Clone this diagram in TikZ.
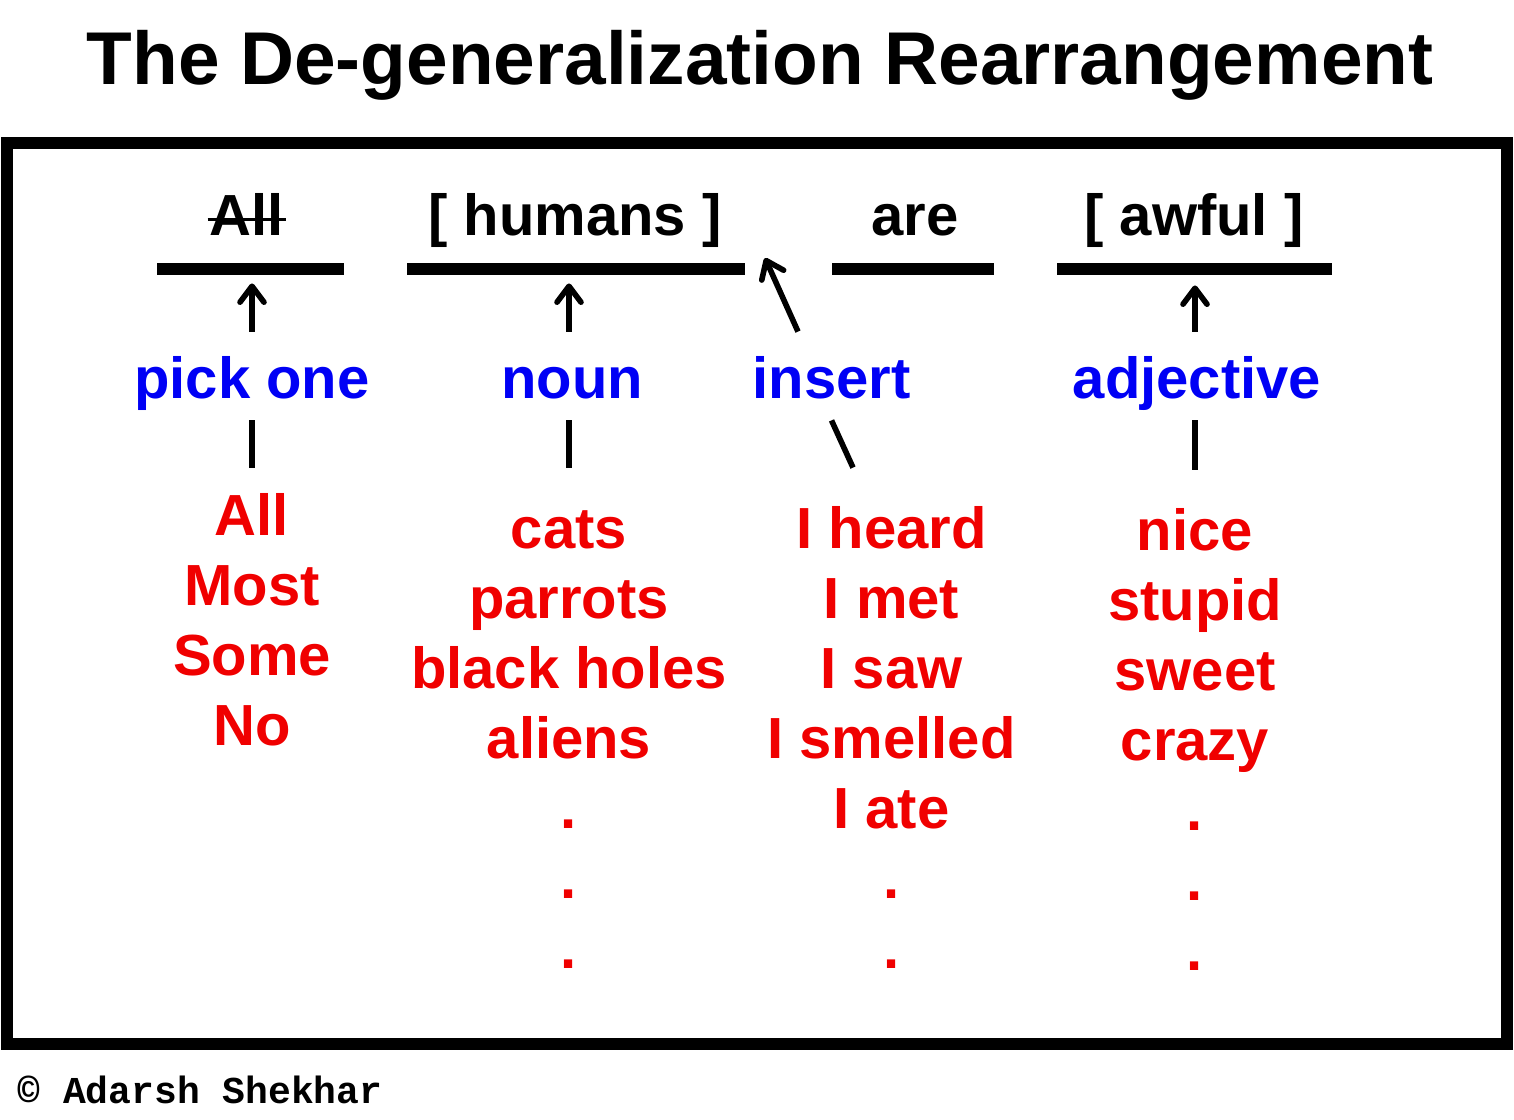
\documentclass[tikz,border=0pt]{standalone}
\usepackage{fontspec}
\setmainfont{Liberation Sans}
\newfontfamily\creditfont{Liberation Mono}
\definecolor{choicered}{RGB}{240,0,0}
\definecolor{roleblue}{RGB}{0,0,245}
\usetikzlibrary{arrows.meta, positioning}

\begin{document}
\begin{tikzpicture}[
    x=0.5pt, y=-0.5pt,
    word/.style={anchor=base, inner sep=0pt, text height=21.5pt, text depth=6pt,
                 font=\fontsize{29}{35}\selectfont\bfseries},
    choice/.style={word, text=choicered},
    role/.style={word, text=roleblue},
    slot/.style={fill=black, inner sep=0pt, minimum height=6pt},
    uparrow/.style={line width=2.8pt, -{Straight Barb[length=8pt, width=12pt, round]}},
    tick/.style={line width=2.8pt}
]
\useasboundingbox (0,0) rectangle (1514,1119);

\node[anchor=base, font=\fontsize{37.4}{45}\selectfont\bfseries] (title) at (760,84)
    {The De-generalization Rearrangement};
\draw[line width=6.3pt] (7,143) rectangle (1507,1044);

% sentence slots
\node[word] (all)   at (247,235)  {All};
\node[word] (human) at (575,235)  {[ humans ]};
\node[word] (are)   at (915,235)  {are};
\node[word] (awful) at (1194,235) {[ awful ]};
\draw[line width=1.5pt] ([xshift=-1pt]all.west) -- ([xshift=1pt]all.east);

\node[slot, minimum width=93.5pt]  (slotA) at (250.5,269) {};
\node[slot, minimum width=169pt]   (slotB) at (576,269)   {};
\node[slot, minimum width=81pt]    (slotC) at (913,269)   {};
\node[slot, minimum width=137.5pt] (slotD) at (1194.5,269) {};
\coordinate (gap) at (765,258);

% what goes in each slot
\node[role] (pick)   at (252,398)    {pick one};
\node[role] (noun)   at (572,398)    {noun};
\node[role] (insert) at (831.5,398)  {insert};
\node[role] (adj)    at (1197,398)   {adjective};

\draw[uparrow, shorten <=11.5pt, shorten >=4pt] (pick.north) -- (pick.north |- slotA.south);
\draw[uparrow, shorten <=11.5pt, shorten >=4pt] ([xshift=-1.5pt]noun.north) -- ([xshift=-1.5pt]noun.north |- slotB.south);
\draw[uparrow, shorten <=11.5pt, shorten >=5pt] ([xshift=-1pt]adj.north) -- ([xshift=-1pt]adj.north |- slotD.south);
\draw[uparrow] ([xshift=-16.75pt, yshift=11.5pt]insert.north) -- (gap);

% word lists
\foreach \w [count=\i] in {All,Most,Some,No}
    \node[choice] (quant-\i) at (252,{465+70*\i}) {\w};
\foreach \w [count=\i] in {cats,parrots,black holes,aliens,.,.,.}
    \node[choice] (noun-\i) at (569,{478+70*\i}) {\w};
\foreach \w [count=\i] in {I heard,I met,I saw,I smelled,I ate,.,.}
    \node[choice] (verb-\i) at (891.5,{478+70*\i}) {\w};
\foreach \w [count=\i] in {nice,stupid,sweet,crazy,.,.,.}
    \node[choice] (adj-\i) at (1195,{480+70*\i}) {\w};

\draw[tick, shorten <=5pt, shorten >=12pt] (pick.south) -- (pick.south |- quant-1.north);
\draw[tick, shorten <=5pt, shorten >=18.5pt] ([xshift=-1.5pt]noun.south) -- ([xshift=-1.5pt]noun.south |- noun-1.north);
\draw[tick, shorten <=5pt, shorten >=18.5pt] ([xshift=-1pt]adj.south) -- ([xshift=-1pt]adj.south |- adj-1.north);
\draw[tick] ([yshift=-5pt]insert.south) -- ([xshift=-19.25pt, yshift=18.5pt]verb-1.north);

\node[anchor=base west, inner sep=0pt, font=\creditfont\fontsize{19}{23}\selectfont\bfseries]
    (credit) at (17,1103) {© Adarsh Shekhar};
\end{tikzpicture}
\end{document}
